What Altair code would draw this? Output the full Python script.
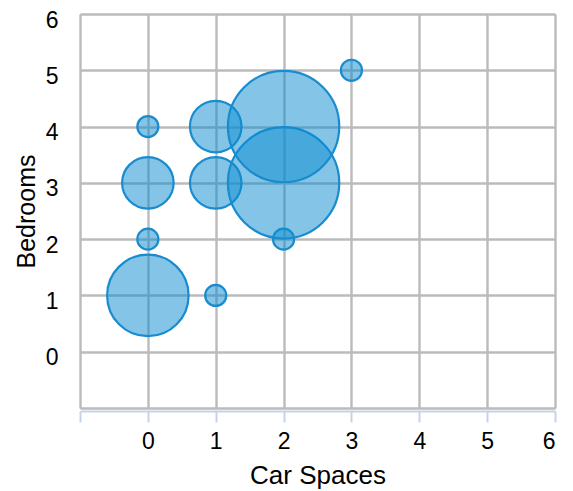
import altair as alt
import pandas as pd

# Data
car_spaces = [0, 0, 0, 0, 1, 1, 1, 2, 2, 2, 3]
bedrooms = [1, 2, 3, 4, 1, 3, 4, 2, 3, 4, 5]
counts = [15, 1, 6, 1, 1, 6, 6, 1, 28, 28, 1]

x_ticks = [-1, 0, 1, 2, 3, 4, 5, 6]
y_ticks = [-1, 0, 1, 2, 3, 4, 5, 6]

df = pd.DataFrame({"car_spaces": car_spaces, "bedrooms": bedrooms, "count": counts})

FONT = "Liberation Sans"
hide_neg = "datum.value < 0 ? '' : datum.label"

chart = alt.Chart(df).mark_circle(
    fill="#0a8bd0",
    fillOpacity=0.5,
    stroke="#188ccf",
    strokeWidth=2.2,
    opacity=1,
).encode(
    x=alt.X(
        "car_spaces:Q",
        title="Car Spaces",
        scale=alt.Scale(domain=[-1, 6], nice=False, zero=False),
        axis=alt.Axis(
            values=x_ticks,
            labelExpr=hide_neg,
            grid=True,
            gridColor="#bbbbbb",
            gridWidth=2.4,
            gridOpacity=1,
            domainColor="#c4d4e6",
            domainWidth=2,
            tickColor="#c4d4e6",
            tickWidth=2,
            tickSize=11,
            offset=3,
            labelFontSize=23,
            labelColor="#000000",
            labelPadding=8,
            titleFontSize=26,
            titleColor="#000000",
            titleFontWeight="normal",
            titlePadding=9,
        ),
    ),
    y=alt.Y(
        "bedrooms:Q",
        title="Bedrooms",
        scale=alt.Scale(domain=[-1, 6], nice=False, zero=False),
        axis=alt.Axis(
            values=y_ticks,
            labelExpr=hide_neg,
            grid=True,
            gridColor="#bbbbbb",
            gridWidth=2.4,
            gridOpacity=1,
            domain=False,
            ticks=False,
            tickSize=0,
            labelFontSize=23,
            labelColor="#000000",
            labelPadding=22,
            labelOffset=6,
            titleFontSize=25,
            titleColor="#000000",
            titleFontWeight="normal",
            titlePadding=6,
        ),
    ),
    size=alt.Size(
        "count:Q",
        scale=alt.Scale(domain=[0, 28], range=[0, 12400]),
        legend=None,
    ),
).properties(
    width=475,
    height=394,
    autosize=alt.AutoSizeParams(type="none"),
    padding={"left": 72, "top": 6, "right": 10, "bottom": 82},
).configure_view(
    stroke=None
).configure(
    font=FONT
)

chart.save("out.html", embed_options={"renderer": "svg", "actions": False})
